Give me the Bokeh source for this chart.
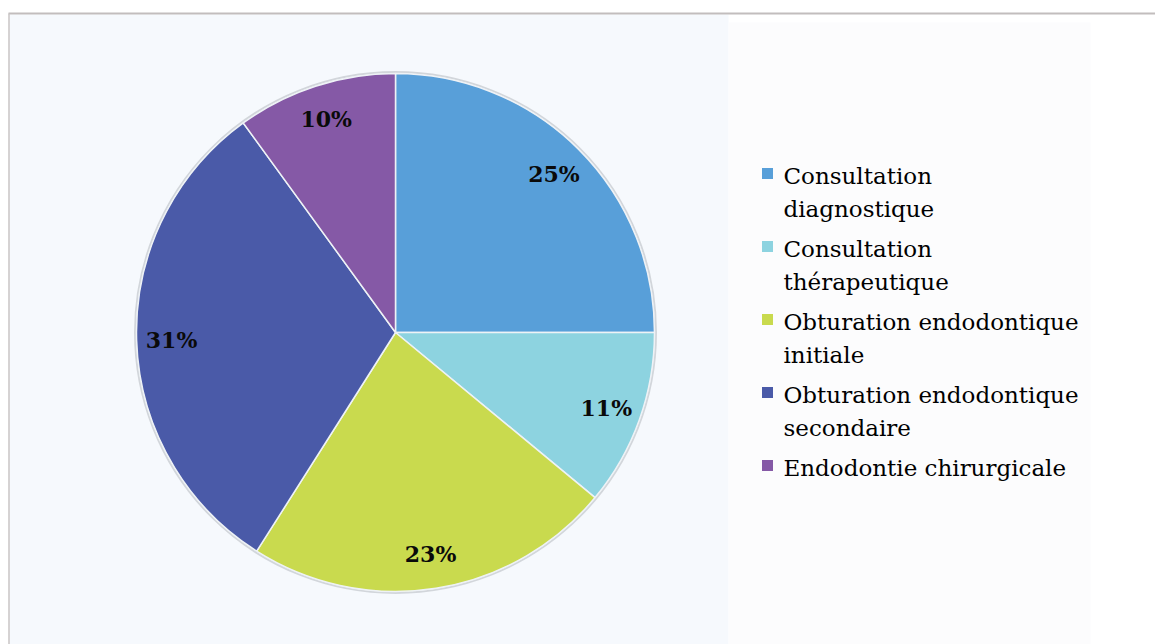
import math
from bokeh.plotting import figure
from bokeh.models import Range1d
from bokeh.core.properties import value
from bokeh.embed import file_html
from bokeh.resources import INLINE

# ---- data ----
categories = ["Consultation diagnostique", "Consultation thérapeutique",
              "Obturation endodontique initiale", "Obturation endodontique secondaire",
              "Endodontie chirurgicale"]
legend_labels = ["Consultation\ndiagnostique", "Consultation\nthérapeutique",
                 "Obturation endodontique\ninitiale", "Obturation endodontique\nsecondaire",
                 "Endodontie chirurgicale"]
percentages = [25, 11, 23, 31, 10]
colors = ["#589FD9", "#8DD3E0", "#C9DA4E", "#4A5AA8", "#8559A6"]

W, H = 1155, 644
def X(px):  # page x -> data x
    return px
def Y(py):  # page y -> data y
    return H - py

p = figure(width=W, height=H, output_backend="svg", toolbar_location=None,
           x_range=Range1d(0, W), y_range=Range1d(0, H), min_border=0)
p.axis.visible = False
p.grid.visible = False
p.outline_line_color = None
p.background_fill_color = "white"
p.border_fill_color = "white"

# background panels
p.quad(left=X(9), right=X(728), bottom=Y(660), top=Y(14), fill_color="#F6F9FD", line_color=None)
p.quad(left=X(728), right=X(1090), bottom=Y(660), top=Y(22), fill_color="#FCFCFD", line_color=None)
# frame
p.segment(x0=[X(8)], y0=[Y(13)], x1=[X(1160)], y1=[Y(13)], line_color="#C2BDBD", line_width=2)
p.segment(x0=[X(8.5)], y0=[Y(13)], x1=[X(8.5)], y1=[Y(660)], line_color="#C8C4C4", line_width=1.5)

# pie
cx, cy, r = X(395), Y(332), 259
total = sum(percentages)
starts, ends, mids = [], [], []
cum = 0
for v in percentages:
    a0 = math.pi / 2 - 2 * math.pi * cum / total
    cum += v
    a1 = math.pi / 2 - 2 * math.pi * cum / total
    starts.append(a0); ends.append(a1); mids.append((a0 + a1) / 2)

p.circle(x=[cx], y=[cy], radius=r + 1.5, radius_units="screen", fill_color=None,
         line_color="#C9CDD2", line_width=2, line_alpha=0.8)
p.wedge(x=cx, y=cy, radius=r, radius_units="screen", start_angle=starts, end_angle=ends,
        direction="clock", fill_color=colors, line_color="#EEF2F6", line_width=1.5)

lab_r = 0.865 * r
p.text(x=[cx + lab_r * math.cos(m) for m in mids],
       y=[cy + lab_r * math.sin(m) for m in mids],
       text=[f"{v}%" for v in percentages],
       text_font=value("DejaVu Serif"), text_font_style="bold", text_font_size="22px",
       text_color="#0A0A0A", text_align="center", text_baseline="middle")

# legend
lx, tx = X(767), X(783)
base = 175.5  # visual middle of first legend line
sq_x, sq_y, tx_list, ty_list, tt = [], [], [], [], []
for lab in legend_labels:
    lines = lab.split("\n")
    sq_x.append(lx); sq_y.append(Y(base - 2.5))
    for i, ln in enumerate(lines):
        tx_list.append(tx); ty_list.append(Y(base + 33 * i)); tt.append(ln)
    base += 33 * len(lines) + 7

p.rect(x=sq_x, y=sq_y, width=11, height=11, width_units="screen", height_units="screen",
       fill_color=colors, line_color=None)
p.text(x=tx_list, y=ty_list, text=tt, text_font=value("DejaVu Serif"), text_font_size="23px",
       text_color="#000000", text_align="left", text_baseline="middle")

open("out.html", "w").write(file_html(p, INLINE))
